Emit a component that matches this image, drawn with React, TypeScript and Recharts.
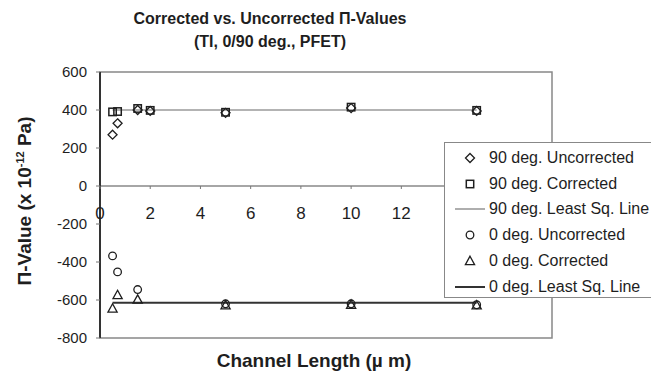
import React from 'react';
import { ComposedChart, Scatter, XAxis, YAxis, ReferenceLine, ReferenceArea } from 'recharts';

// Channel lengths (µm) and Π-values (x 10^-12 Pa) per series
const length90 = [0.5, 0.7, 1.5, 2, 5, 10, 15];
const uncorrected90 = [270, 330, 400, 395, 385, 410, 395];
const corrected90 = [390, 392, 408, 398, 388, 415, 398];

const lengthUnc0 = [0.5, 0.7, 1.5, 5, 10, 15];
const uncorrected0 = [-368, -452, -545, -620, -620, -625];
const lengthCor0 = [0.5, 0.7, 1.5, 5, 10, 15];
const corrected0 = [-645, -574, -598, -628, -625, -628];

// Least-squares fit lines (endpoints)
const fitLength = [0.5, 15];
const fit90 = [400, 400];
const fit0 = [-615, -615];

// labelled x ticks (the rest of the axis runs under the legend)
const xTicks = [0, 2, 4, 6, 8, 10, 12];
const yTicks = [-800, -600, -400, -200, 0, 200, 400, 600];

const X_DOMAIN: [number, number] = [0, 18];
const Y_DOMAIN: [number, number] = [-800, 600];

const W = 651;
const H = 381;
const MARGIN = { top: 72, right: 99, bottom: 13, left: 0 };
const X_AXIS_H = 30;
const PLOT_H = H - MARGIN.top - MARGIN.bottom - X_AXIS_H;

const FONT = '"Liberation Sans", Arial, sans-serif';
const INK = '#1e1e1e';

const zip = (xs: number[], ys: number[]) => xs.map((x, i) => ({ x, y: ys[i] }));

const Diamond = ({ cx, cy }: any) => (
  <path d={`M${cx},${cy - 4.5}L${cx + 4.5},${cy}L${cx},${cy + 4.5}L${cx - 4.5},${cy}Z`} fill="none" stroke={INK} strokeWidth={1.3} />
);
const Square = ({ cx, cy }: any) => (
  <rect x={cx - 3.7} y={cy - 3.7} width={7.4} height={7.4} fill="none" stroke={INK} strokeWidth={1.5} />
);
const Circle = ({ cx, cy }: any) => (
  <circle cx={cx} cy={cy} r={3.8} fill="none" stroke={INK} strokeWidth={1.3} />
);
const Triangle = ({ cx, cy }: any) => (
  <path d={`M${cx},${cy - 4.8}L${cx + 4.6},${cy + 3.6}L${cx - 4.6},${cy + 3.6}Z`} fill="none" stroke={INK} strokeWidth={1.3} />
);
const NoShape = () => null;

// x-axis ticks sit on the zero line rather than the plot bottom
const XTick = (props: any) => {
  const { x, payload } = props;
  const y0 = MARGIN.top + ((Y_DOMAIN[1] - 0) / (Y_DOMAIN[1] - Y_DOMAIN[0])) * PLOT_H;
  return (
    <g>
      <line x1={x} x2={x} y1={y0} y2={y0 + 3} stroke="#777" strokeWidth={1} />
      <text x={x} y={y0 + 33} textAnchor="middle" fontFamily={FONT} fontSize={17} fill={INK}>
        {payload.value}
      </text>
    </g>
  );
};

const legendItems = [
  { label: '90 deg. Uncorrected', icon: 'diamond' },
  { label: '90 deg. Corrected', icon: 'square' },
  { label: '90 deg. Least Sq. Line', icon: 'line90' },
  { label: '0 deg. Uncorrected', icon: 'circle' },
  { label: '0 deg. Corrected', icon: 'triangle' },
  { label: '0 deg. Least Sq. Line', icon: 'line0' },
];

const LegendIcon = ({ kind }: { kind: string }) => {
  const c = 15;
  return (
    <svg width={32} height={14} style={{ display: 'block' }}>
      {kind === 'diamond' && <Diamond cx={c} cy={7} />}
      {kind === 'square' && <Square cx={c} cy={7} />}
      {kind === 'circle' && <Circle cx={c} cy={7} />}
      {kind === 'triangle' && <Triangle cx={c} cy={7} />}
      {kind === 'line90' && <line x1={0} x2={30} y1={7} y2={7} stroke="#9a9a9a" strokeWidth={1.6} />}
      {kind === 'line0' && <line x1={0} x2={30} y1={7} y2={7} stroke="#333" strokeWidth={2} />}
    </svg>
  );
};

export default function App() {
  return (
    <div style={{ position: 'absolute', left: 0, top: 0, width: W, height: H, background: '#fff', overflow: 'hidden', fontFamily: FONT }}>
      <div style={{ position: 'absolute', left: 70, width: 400, top: 7, textAlign: 'center', fontWeight: 'bold', fontSize: 16, lineHeight: '23px', color: INK }}>
        Corrected vs. Uncorrected Π-Values
        <br />
        (TI, 0/90 deg., PFET)
      </div>

      <ComposedChart width={W} height={H} margin={MARGIN}>
        <XAxis
          type="number"
          dataKey="x"
          domain={X_DOMAIN}
          ticks={xTicks}
          axisLine={false}
          tickLine={false}
          tick={<XTick />}
          height={X_AXIS_H}
          allowDataOverflow
        />
        <YAxis
          type="number"
          dataKey="y"
          domain={Y_DOMAIN}
          ticks={yTicks}
          width={100}
          axisLine={{ stroke: '#333', strokeWidth: 2 }}
          tickLine={{ stroke: '#777' }}
          tickSize={4}
          tickMargin={9}
          tick={{ fontFamily: FONT, fontSize: 15, fill: INK }}
          allowDataOverflow
        />
        <ReferenceArea x1={0} x2={18} y1={-800} y2={600} fill="none" stroke="#888" strokeWidth={1.5} />
        <ReferenceLine y={0} stroke="#888" strokeWidth={1.5} />

        <Scatter data={zip(fitLength, fit90)} line={{ stroke: '#9a9a9a', strokeWidth: 1.6 }} shape={NoShape} isAnimationActive={false} />
        <Scatter data={zip(fitLength, fit0)} line={{ stroke: '#333', strokeWidth: 2 }} shape={NoShape} isAnimationActive={false} />
        <Scatter data={zip(length90, uncorrected90)} shape={Diamond} isAnimationActive={false} />
        <Scatter data={zip(length90, corrected90)} shape={Square} isAnimationActive={false} />
        <Scatter data={zip(lengthUnc0, uncorrected0)} shape={Circle} isAnimationActive={false} />
        <Scatter data={zip(lengthCor0, corrected0)} shape={Triangle} isAnimationActive={false} />
      </ComposedChart>

      <div
        style={{
          position: 'absolute',
          left: 25,
          top: 201,
          transform: 'translate(-50%, -50%) rotate(-90deg)',
          whiteSpace: 'nowrap',
          fontWeight: 'bold',
          fontSize: 19,
          color: INK,
        }}
      >
        Π-Value (x 10<sup style={{ fontSize: 11 }}>-12</sup> Pa)
      </div>

      <div style={{ position: 'absolute', left: 314, top: 350, transform: 'translateX(-50%)', whiteSpace: 'nowrap', fontWeight: 'bold', fontSize: 19, color: INK }}>
        Channel Length (µ m)
      </div>

      <div
        style={{
          position: 'absolute',
          left: 444,
          top: 142,
          width: 240,
          height: 156,
          border: '1px solid #888',
          background: '#fff',
          boxSizing: 'border-box',
          paddingTop: 2,
        }}
      >
        {legendItems.map((it) => (
          <div key={it.label} style={{ display: 'flex', alignItems: 'center', height: 25.8, paddingLeft: 10 }}>
            <LegendIcon kind={it.icon} />
            <span style={{ fontSize: 16, color: INK, marginLeft: 2, whiteSpace: 'nowrap' }}>{it.label}</span>
          </div>
        ))}
      </div>
    </div>
  );
}
